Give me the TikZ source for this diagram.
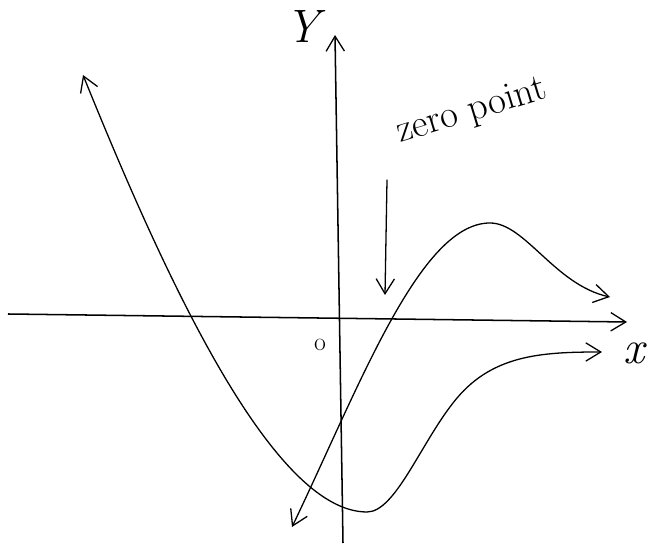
\documentclass[tikz,border=0pt]{standalone}
\usepackage{amsmath,amssymb}
\usepackage{tikz}
\usetikzlibrary{arrows.meta}

\begin{document}
\begin{tikzpicture}[
    x=0.03cm, y=0.03cm,
    every node/.style={inner sep=0pt},
    axis/.style={line width=1.3pt},
    curve/.style={line width=1.1pt, line cap=round, line join=round},
    arr/.style={-{Straight Barb[length=4.5mm, width=5.5mm, line width=1.1pt]}},
    barr/.style={{Straight Barb[length=4.5mm, width=5.5mm, line width=1.1pt]}-{Straight Barb[length=4.5mm, width=5.5mm, line width=1.1pt]}},
]
\useasboundingbox (0,0) rectangle (649,545);

% axes
\coordinate (xl) at (8,231);
\coordinate (xr) at (627,223);
\coordinate (yb) at (343,2);
\coordinate (yt) at (335,510);
\draw[axis, arr] (xl) -- (xr);
\draw[axis, arr] (yb) -- (yt);

\node[font=\fontsize{40}{42}\selectfont\itshape] (ylabel) at (303,518) {Y};
\node[font=\fontsize{40}{42}\selectfont\itshape] (xlabel) at (634,192) {x};
\node[font=\fontsize{22}{24}\selectfont] (origin) at (320,200) {o};

% label with arrow
\node[font=\fontsize{33}{35}\selectfont, rotate=17] (zeropt) at (472,433) {zero point};
\coordinate (zstart) at (387,365);
\coordinate (ztip) at (385,250);
\draw[curve, arr] (zstart) -- (ztip);

% cubic-like curve
\coordinate (c1) at (292,18);
\coordinate (c2) at (490,322);
\coordinate (c3) at (610,248);
\draw[curve, barr] (c1) .. controls (360,160) and (420,322) .. (c2)
    .. controls (525,322) and (555,260) .. (c3);

% parabola-like curve
\coordinate (p1) at (83,470);
\coordinate (p2) at (367,33);
\coordinate (p3) at (453,142);
\coordinate (p4) at (602,193);
\draw[curve, barr] (p1) .. controls (160,280) and (270,33) .. (p2)
    .. controls (395,33) and (420,100) .. (p3)
    .. controls (490,190) and (540,193) .. (p4);

\end{tikzpicture}
\end{document}
